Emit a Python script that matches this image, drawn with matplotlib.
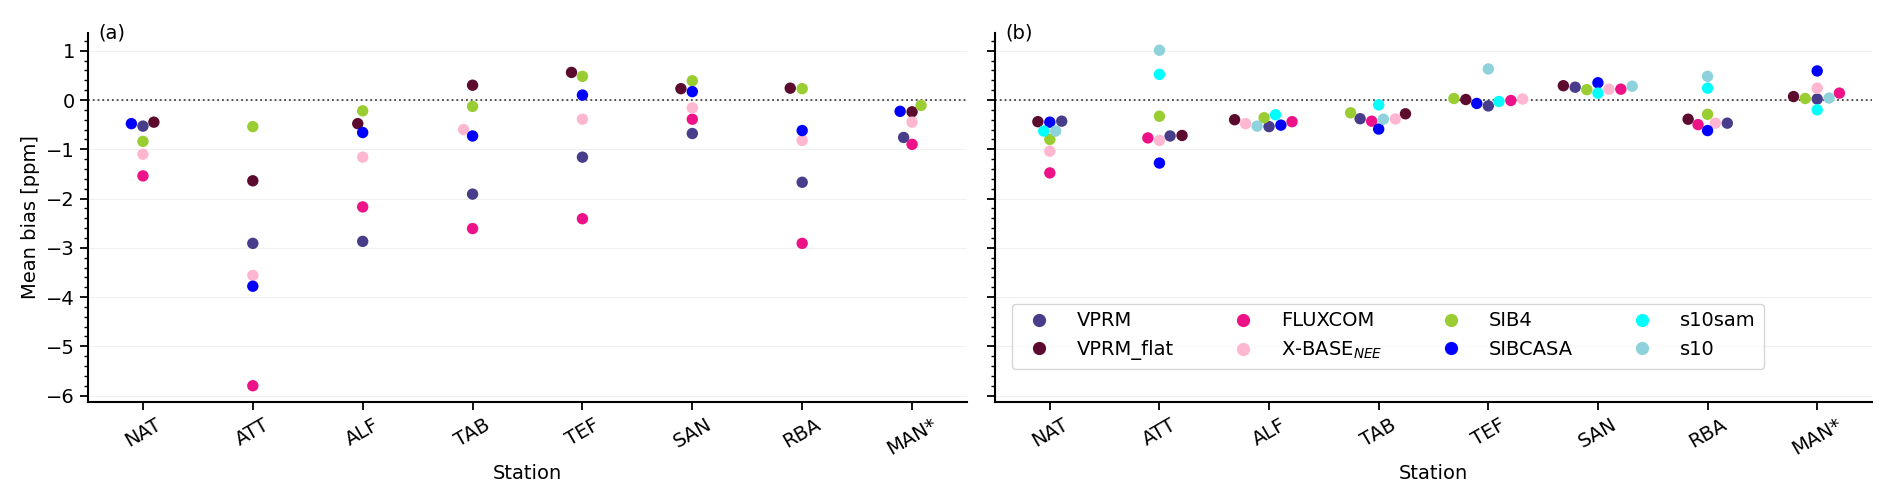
import numpy as np
import pandas as pd
import seaborn as sns
import matplotlib.pyplot as plt
from matplotlib.lines import Line2D
from matplotlib.ticker import MultipleLocator

stations = ['NAT', 'ATT', 'ALF', 'TAB', 'TEF', 'SAN', 'RBA', 'MAN*']
models_a = ['VPRM', 'VPRM_flat', 'FLUXCOM', 'X-BASE', 'SIB4', 'SIBCASA']
models_b = ['VPRM', 'VPRM_flat', 'FLUXCOM', 'X-BASE', 'SIB4', 'SIBCASA', 's10sam', 's10']

# panel (a): mean bias per station [ppm]
a_vprm      = [-0.53, -2.91, -2.87, -1.91, -1.16, -0.68, -1.67, -0.76]
a_vprm_flat = [-0.45, -1.64, -0.48,  0.30,  0.56,  0.23,  0.24, -0.24]
a_fluxcom   = [-1.54, -5.80, -2.17, -2.61, -2.41, -0.39, -2.91, -0.90]
a_xbase     = [-1.10, -3.56, -1.16, -0.60, -0.39, -0.16, -0.82, -0.45]
a_sib4      = [-0.84, -0.54, -0.22, -0.13,  0.48,  0.39,  0.23, -0.11]
a_sibcasa   = [-0.48, -3.78, -0.66, -0.73,  0.10,  0.17, -0.62, -0.23]

# panel (b)
b_vprm      = [-0.43, -0.73, -0.54, -0.38,  -0.12, 0.26, -0.47,  0.02]
b_vprm_flat = [-0.44, -0.72, -0.40, -0.28,   0.01, 0.29, -0.39,  0.07]
b_fluxcom   = [-1.48, -0.77, -0.44, -0.43,  -0.01, 0.22, -0.50,  0.14]
b_xbase     = [-1.04, -0.82, -0.48, -0.385,  0.02, 0.22, -0.47,  0.24]
b_sib4      = [-0.80, -0.33, -0.36, -0.26,   0.03, 0.21, -0.29,  0.03]
b_sibcasa   = [-0.45, -1.28, -0.51, -0.59,  -0.07, 0.35, -0.62,  0.59]
b_s10sam    = [-0.63,  0.52, -0.30, -0.10,  -0.03, 0.14,  0.24, -0.20]
b_s10       = [-0.63,  1.01, -0.53, -0.39,   0.63, 0.28,  0.48,  0.04]

colors = {
    'VPRM': '#483D8B',
    'VPRM_flat': '#5C0A2E',
    'FLUXCOM': '#EE1289',
    'X-BASE': '#FFB6D1',
    'SIB4': '#9ACD32',
    'SIBCASA': '#0000FF',
    's10sam': '#00FFFF',
    's10': '#8ED2DC',
}
labels = {'X-BASE': 'X-BASE$_{NEE}$'}


def long_form(models, series):
    rows = []
    for m, vals in zip(models, series):
        for s, v in zip(stations, vals):
            rows.append({'Station': s, 'model': m, 'bias': v})
    return pd.DataFrame(rows)


df_a = long_form(models_a, [a_vprm, a_vprm_flat, a_fluxcom, a_xbase, a_sib4, a_sibcasa])
df_b = long_form(models_b, [b_vprm, b_vprm_flat, b_fluxcom, b_xbase, b_sib4, b_sibcasa,
                            b_s10sam, b_s10])

plt.rcParams['font.family'] = ['DejaVu Sans']
plt.rcParams['font.size'] = 14

W, H = 1892, 503
pos_a = [88 / W, 101 / H, 879 / W, 369 / H]
pos_b = [995 / W, 101 / H, 877 / W, 369 / H]
# the swarm is laid out on a slightly taller axes, then the axes is shrunk back
# (points end up a bit closer vertically, like in the original figure)
stretch = 1.17
tall = lambda p: [p[0], p[1], p[2], p[3] * stretch]

fig = plt.figure(figsize=(W / 100, H / 100), dpi=100)
ax1 = fig.add_axes(tall(pos_a))
ax2 = fig.add_axes(tall(pos_b), sharey=ax1)

for ax, df, models, tag in [(ax1, df_a, models_a, '(a)'), (ax2, df_b, models_b, '(b)')]:
    ax.set_axisbelow(True)
    ax.grid(True, color='#f0f0f0', lw=0.8)
    ax.axhline(0, color='#444444', ls=':', lw=1.3, zorder=1)
    sns.swarmplot(data=df, x='Station', y='bias', hue='model', order=stations,
                  hue_order=models, palette=colors, size=8.2, linewidth=0,
                  legend=False, ax=ax, zorder=3)
    ax.set_xlim(-0.5, 7.5)
    ax.set_ylim(-6.13, 1.36)
    ax.yaxis.set_major_locator(MultipleLocator(1))
    ax.yaxis.set_minor_locator(MultipleLocator(0.2))
    ax.spines['top'].set_visible(False)
    ax.spines['right'].set_visible(False)
    ax.spines['left'].set_linewidth(1.5)
    ax.spines['bottom'].set_linewidth(1.5)
    ax.tick_params(which='major', length=6, width=1.3, labelsize=14)
    ax.tick_params(which='minor', length=3, width=1.0)
    ax.set_xlabel('Station', fontsize=14)
    plt.setp(ax.get_xticklabels(), rotation=30, ha='center')
    ax.text(0.012, 1.0, tag, transform=ax.transAxes, fontsize=14, va='center', ha='left')

# compute swarm offsets once, then freeze them
fig.canvas.draw()
for ax in (ax1, ax2):
    for coll in ax.collections:
        if 'draw' in coll.__dict__:
            del coll.draw
ax1.set_position(pos_a)
ax2.set_position(pos_b)

ax1.set_ylabel('Mean bias [ppm]', fontsize=14)
ax2.set_ylabel('')
ax2.tick_params(axis='y', labelleft=False)

handles = [Line2D([], [], ls='none', marker='o', markersize=9.5, markeredgewidth=0,
                  color=colors[m], label=labels.get(m, m)) for m in models_b]
ax2.legend(handles=handles, ncol=4, loc='lower left', bbox_to_anchor=(0.019, 0.089),
           borderaxespad=0, fontsize=14, handlelength=2.0, handletextpad=0.95,
           columnspacing=2.55, labelspacing=0.5, frameon=True)

fig.savefig('out.png', dpi=100)
